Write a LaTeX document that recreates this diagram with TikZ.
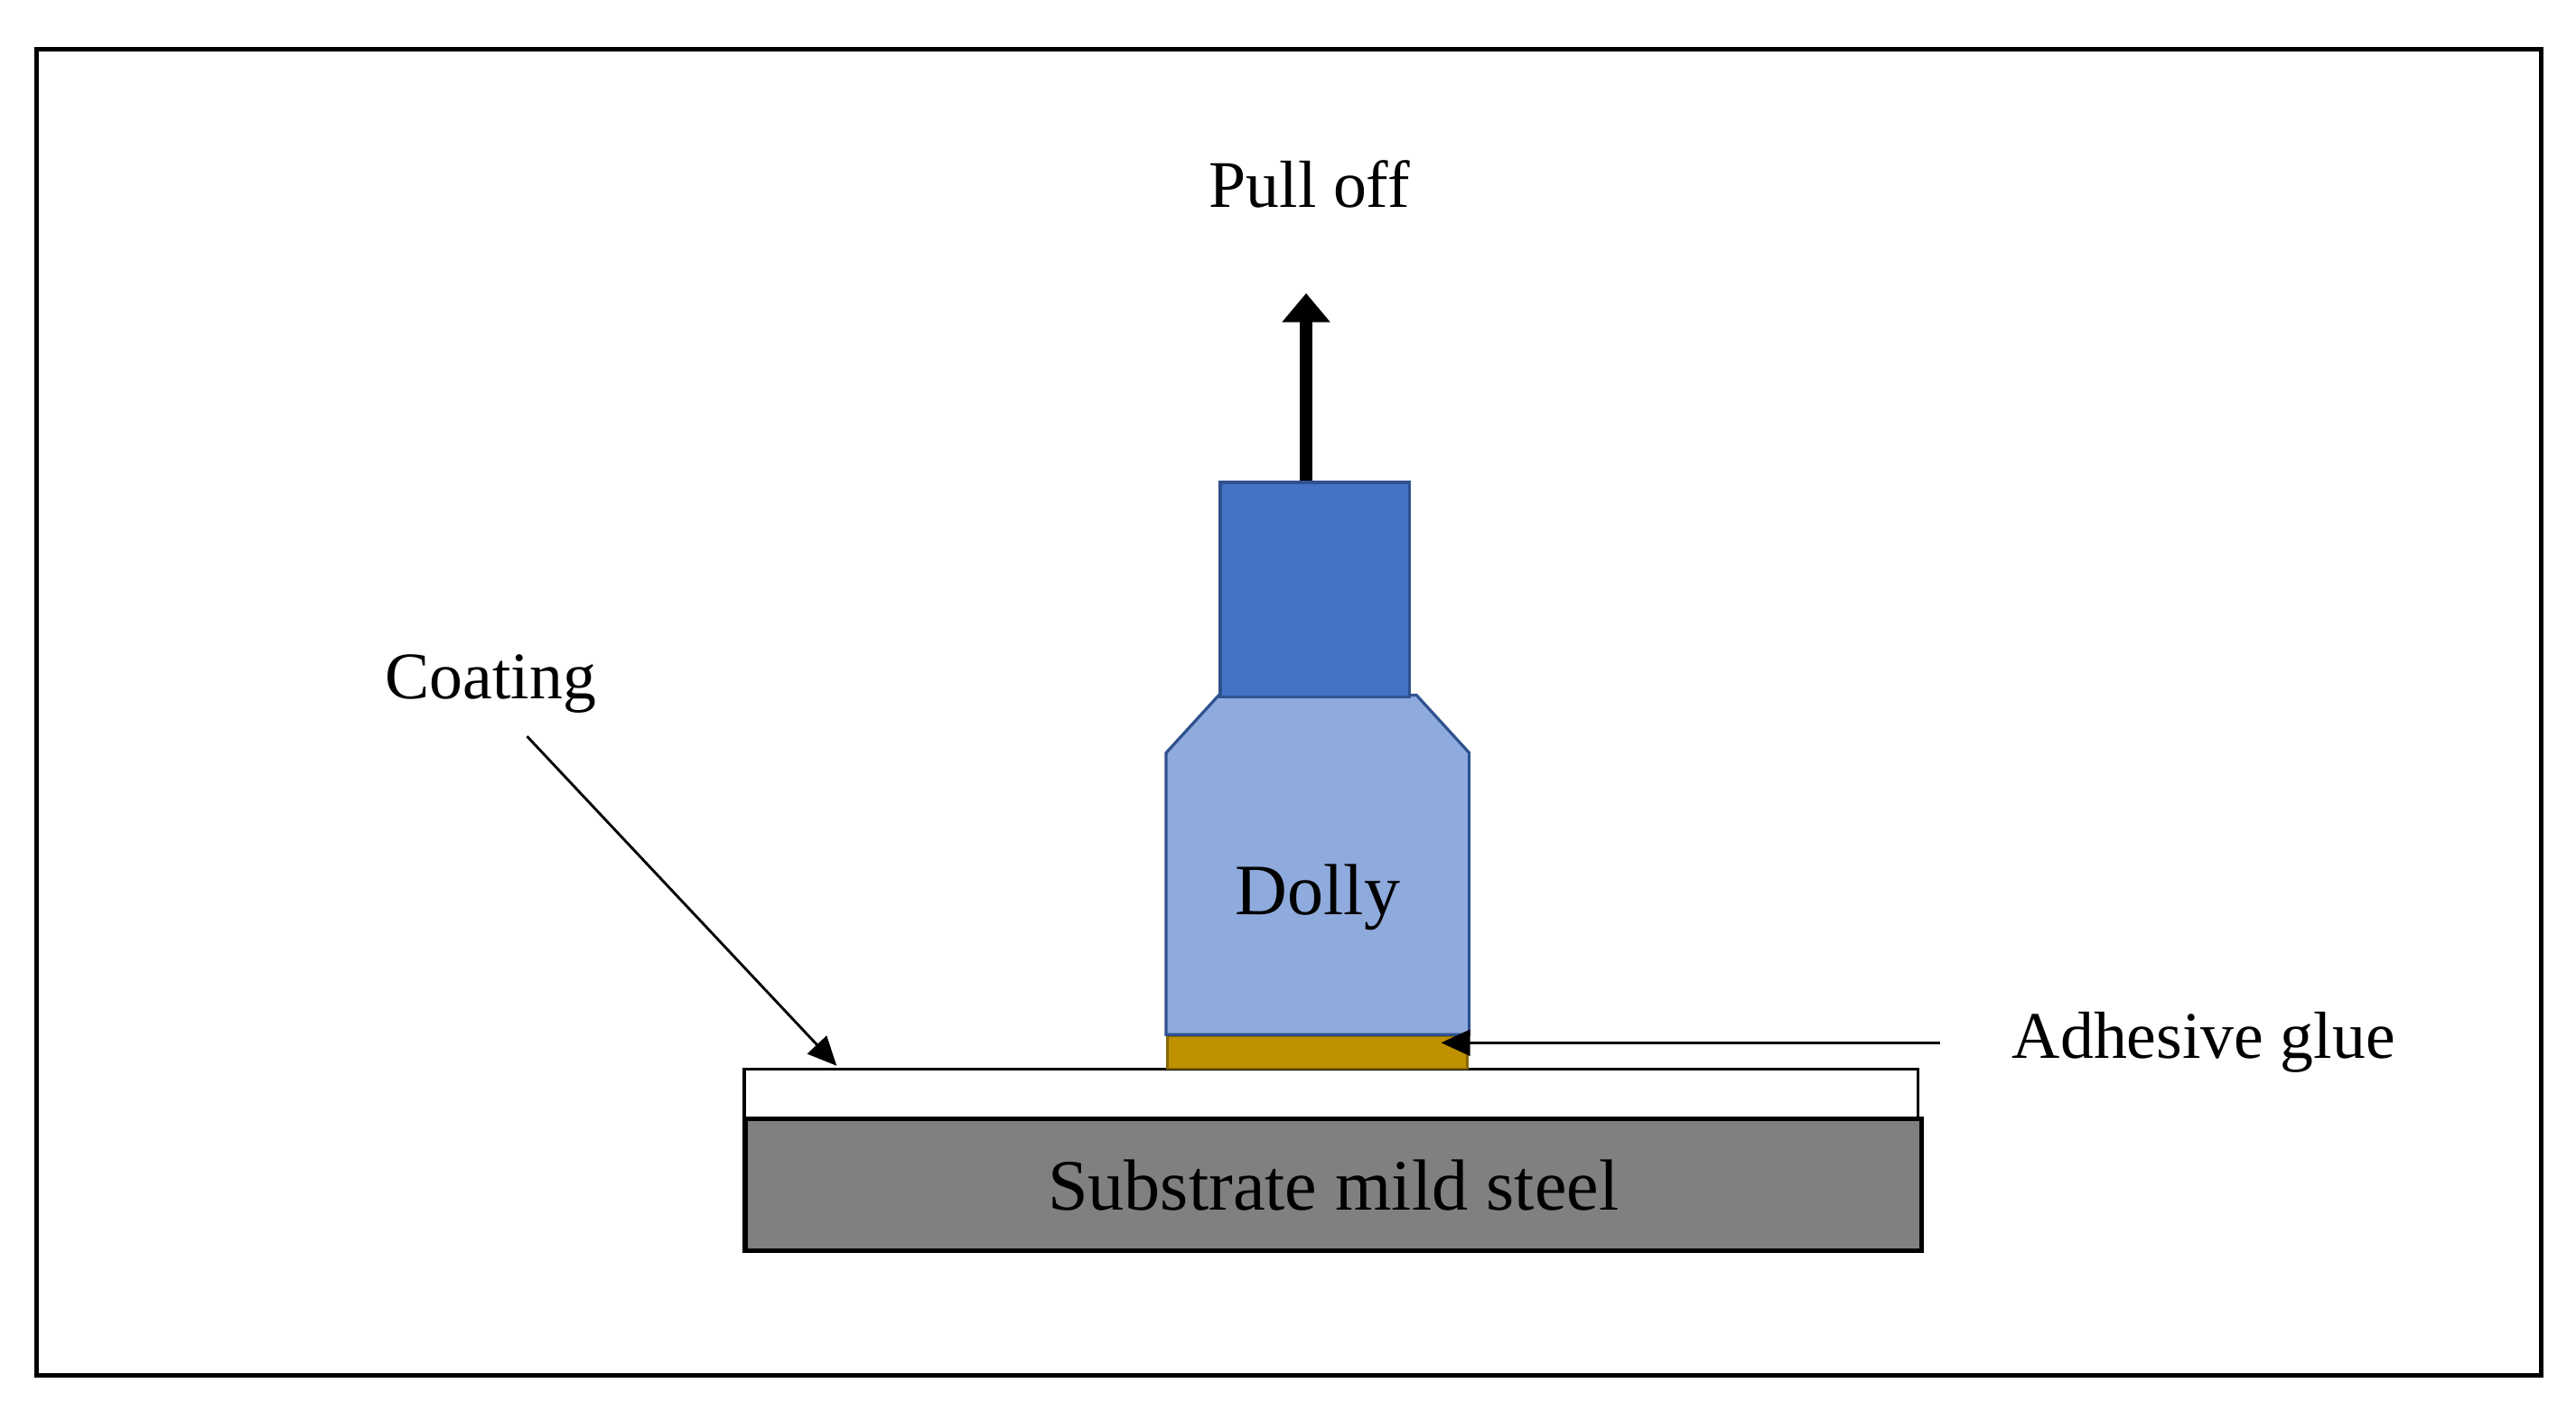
\documentclass[tikz,border=0pt]{standalone}
\usepackage{fontspec}
\setmainfont{Liberation Serif}
\usetikzlibrary{arrows.meta}
\definecolor{topblue}{HTML}{4472C4}
\definecolor{lightblue}{HTML}{8FAADC}
\definecolor{edgeblue}{HTML}{2F528F}
\definecolor{glue}{HTML}{BF9000}
\definecolor{steel}{HTML}{808080}
\tikzset{
  lbl/.style={font=\fontsize{11.5}{13}\selectfont, inner sep=0pt},
  part/.style={draw=edgeblue, line width=0.5pt},
  ptr/.style={-{Triangle[length=5pt,width=4.5pt]}, line width=0.45pt}
}
\begin{document}
\begin{tikzpicture}[x=0.01cm,y=-0.01cm]
\useasboundingbox (0,0) rectangle (1564,862.6);
\draw[line width=0.8pt] (22,30) rectangle (1543,835);
% substrate and coating
\node[draw, line width=0.8pt, fill=steel, minimum width=7.14cm, minimum height=0.8cm, inner sep=0pt, anchor=north west, font=\fontsize{12.5}{14}\selectfont] (sub) at (451,678) {Substrate mild steel};
\node[draw, line width=0.6pt, fill=white, minimum width=7.12cm, minimum height=0.3cm, inner sep=0pt, anchor=north west] (coat) at (451,648) {};
% glue
\node[draw=glue!70!black, line width=0.4pt, fill=glue, minimum width=1.82cm, minimum height=0.2cm, inner sep=0pt, anchor=north west] (glue) at (708,628) {};
% dolly
\draw[part, fill=lightblue] (740,422) -- (860,422) -- (892,457) -- (892,628) -- (708,628) -- (708,457) -- cycle;
\node[lbl, font=\fontsize{12.5}{14}\selectfont] (dolly) at (800,545) {Dolly};
\node[part, fill=topblue, minimum width=1.15cm, minimum height=1.3cm, inner sep=0pt, anchor=north west] (top) at (740,292) {};
% pull
\coordinate (ptop) at (793,178);
\draw[line width=2.2pt, -{Triangle[length=5pt,width=8pt]}] (top.north -| ptop) -- (ptop);
\node[lbl] (pull) at (795,112) {Pull off};
% labels
\node[lbl] (coatl) at (298,415) {Coating};
\coordinate (c1) at (320,447);
\coordinate (c2) at (508,647);
\draw[ptr] (c1) -- (c2);
\node[lbl] (adh) at (1338,633) {Adhesive glue};
\coordinate (a1) at (1178,633);
\coordinate (a2) at (875,633);
\draw[ptr] (a1) -- (a2);
\end{tikzpicture}
\end{document}
